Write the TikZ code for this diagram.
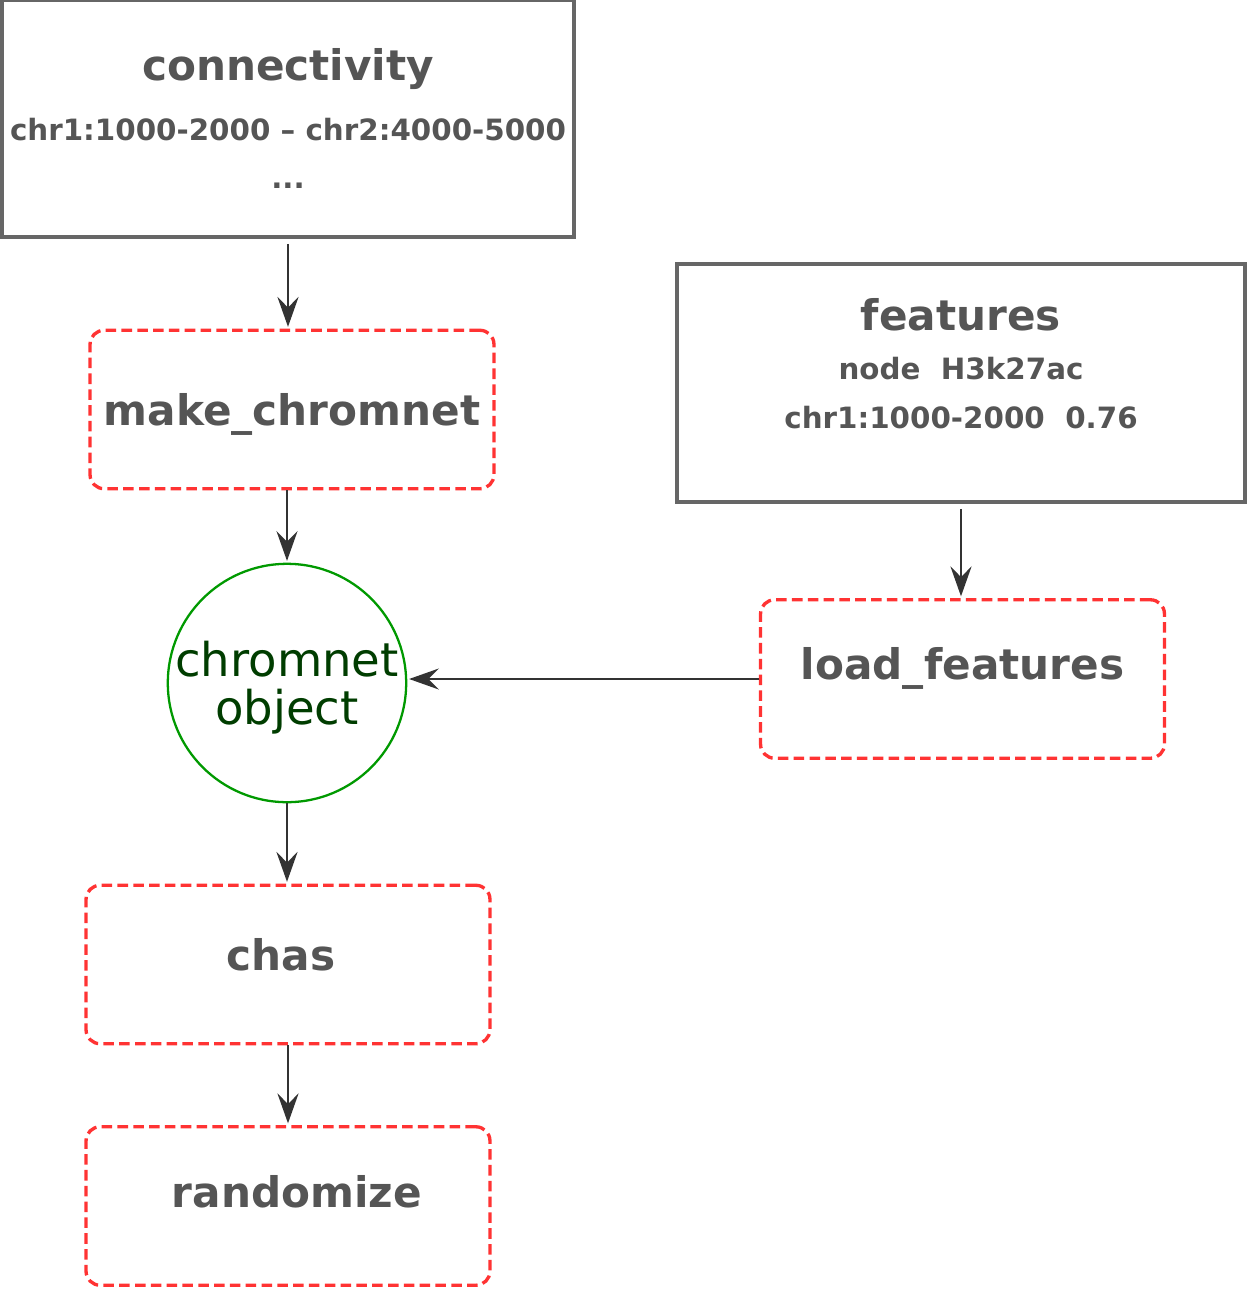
\documentclass[tikz,border=0pt]{standalone}
\usepackage{fontspec}
\setmainfont{DejaVu Sans}
\usetikzlibrary{arrows.meta}
\definecolor{labelgray}{HTML}{555555}
\definecolor{framegray}{HTML}{666666}
\definecolor{stepred}{HTML}{FF3333}
\definecolor{objgreen}{HTML}{009900}
\definecolor{objtext}{HTML}{003D00}
\tikzset{
	databox/.style={draw=framegray, line width=1.9pt, text=labelgray, align=center, inner sep=0pt, font=\fontsize{16.7}{25}\selectfont\bfseries},
	funcbox/.style={draw=stepred, line width=1.9pt, dash pattern=on 6pt off 3pt, rounded corners=8pt, minimum width=8.08cm, minimum height=3.17cm, inner sep=0pt, text=labelgray, font=\fontsize{24}{28}\selectfont\bfseries},
	flow/.style={draw=black!80, line width=1.2pt, -{Stealth[length=17pt,width=12pt,inset=6pt]}, shorten >=1pt}
}
\newcommand{\boxtitle}[1]{{\fontsize{24}{24}\selectfont #1}}
\begin{document}
\begin{tikzpicture}[x=0.02cm, y=-0.02cm]
	\useasboundingbox (0, 0) rectangle (1247, 1289);
	% input tables
	\node[databox, minimum width=11.44cm, minimum height=4.74cm, text depth=0pt] (conn) at (288, 118.5) {\boxtitle{connectivity}\\[9pt] chr1:1000-2000 -- chr2:4000-5000\\[2pt] ...};
	\node[databox, minimum width=11.36cm, minimum height=4.76cm, text depth=22pt] (feat) at (961, 383) {\boxtitle{features}\\[3pt] node\ \ H3k27ac\\[3pt] chr1:1000-2000\ \ 0.76};
	% functions
	\node[funcbox, text depth=0pt] (make) at (292, 409.5) {make\_chromnet};
	\node[funcbox, text depth=18pt] (load) at (962.5, 679) {load\_features};
	\node[funcbox, text depth=11pt] (chas) at (288, 964.5) {\hspace*{-8pt}chas};
	\node[funcbox, text depth=16pt] (rand) at (288, 1206) {\hspace*{10pt}randomize};
	% the object
	\node[circle, draw=objgreen, line width=1.3pt, minimum size=4.76cm, inner sep=0pt, text=objtext, align=center, font=\fontsize{26.5}{27}\selectfont, text depth=0pt] (obj) at (287, 683) {chromnet\\object};
	\draw[flow] ([yshift=-3pt]conn.south) -- (conn.south |- make.north);
	\draw[flow] (obj.north |- make.south) -- (obj.north);
	\draw[flow] (obj.south) -- (obj.south |- chas.north);
	\draw[flow] (chas.south) -- (chas.south |- rand.north);
	\draw[flow] ([yshift=-3pt]feat.south) -- (feat.south |- load.north);
	\draw[flow] (load.west) -- (load.west -| obj.east);
\end{tikzpicture}
\end{document}
